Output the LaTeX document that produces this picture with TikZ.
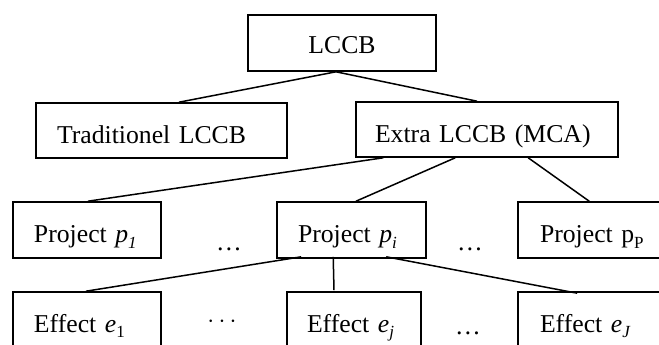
\documentclass[tikz,border=0pt]{standalone}
\usepackage{fontspec}
\setmainfont{Liberation Serif}
\usetikzlibrary{calc}
\newcommand\mysub[1]{\raisebox{-0.22em}{\fontsize{17}{17}\selectfont #1}}
\tikzset{
  box/.style={draw, line width=1.6pt, inner xsep=21pt, inner ysep=0pt, align=left,
    minimum height=56pt, text height=24pt, text depth=0pt,
    font=\fontsize{25.7}{30}\selectfont},
  link/.style={line width=1.5pt},
  dots/.style={inner sep=0pt, font=\fontsize{25.7}{30}\selectfont}
}
\begin{document}
\begin{tikzpicture}[x=1pt,y=-1pt]
\useasboundingbox (0,0) rectangle (659,345);
\clip (0,0) rectangle (659,345);
\fill[white] (0,0) rectangle (659,345);
% level 0
\node[box, minimum width=188pt, text width=146pt, align=center, text height=22pt] (lccb) at (342,43) {LCCB};
% level 1
\node[box, minimum width=251pt, text width=209pt, minimum height=55pt, text height=25pt] (trad) at (161.5,130.5) {Traditionel~LCCB};
\node[box, minimum width=262pt, inner xsep=19pt, text width=224pt, minimum height=55pt, text height=25pt] (extra) at (487,129.5) {Extra~LCCB~(MCA)};
% level 2
\node[box, minimum width=148pt, text width=106pt, text height=25pt] (p1) at (87,230) {Project~\textit{p}\mysub{\textit{1}}};
\node[box, minimum width=149pt, text width=107pt, text height=25pt] (pi) at (351.5,230) {Project~\textit{p}\mysub{\textit{i}}};
\node[box, minimum width=152pt, text width=108pt, inner xsep=22pt, text height=25pt] (pP) at (594,230) {Project~p\mysub{P}};
% level 3
\node[box, minimum width=148pt, text width=106pt] (e1) at (87,320) {Effect~\textit{e}\mysub{1}};
\node[box, minimum width=134pt, text width=94pt, inner xsep=20pt] (ej) at (354,320) {Effect~\textit{e}\mysub{\textit{j}}};
\node[box, minimum width=152pt, text width=108pt, inner xsep=22pt] (eJ) at (594,320) {Effect~\textit{e}\mysub{\textit{J}}};
% dots
\node[dots, anchor=base] (d1) at (229,250) {…};
\node[dots, anchor=base] (d2) at (470,250) {…};
\node[dots] (d3) at (222,322) {$\cdots$};
\node[dots, anchor=base] (d4) at (468,334) {…};
% connectors
\draw[link] ([xshift=-6pt]lccb.south) -- ([xshift=17.5pt]trad.north);
\draw[link] ([xshift=-6pt]lccb.south) -- ([xshift=-10pt]extra.north);
\draw[link] ([xshift=28pt]extra.south west) -- ([xshift=1pt]p1.north);
\draw[link] ([xshift=100pt]extra.south west) -- ([xshift=4.5pt]pi.north);
\draw[link] ([xshift=173pt]extra.south west) -- ([xshift=72pt]pP.north west);
\draw[link] ([xshift=25pt,yshift=2pt]pi.south west) -- ([xshift=-1pt]e1.north);
\draw[link] ([xshift=57pt,yshift=2pt]pi.south west) -- ([xshift=-20pt,yshift=1pt]ej.north);
\draw[link] ([xshift=110pt,yshift=2pt]pi.south west) -- ([xshift=60pt,yshift=-2pt]eJ.north west);
\end{tikzpicture}
\end{document}
